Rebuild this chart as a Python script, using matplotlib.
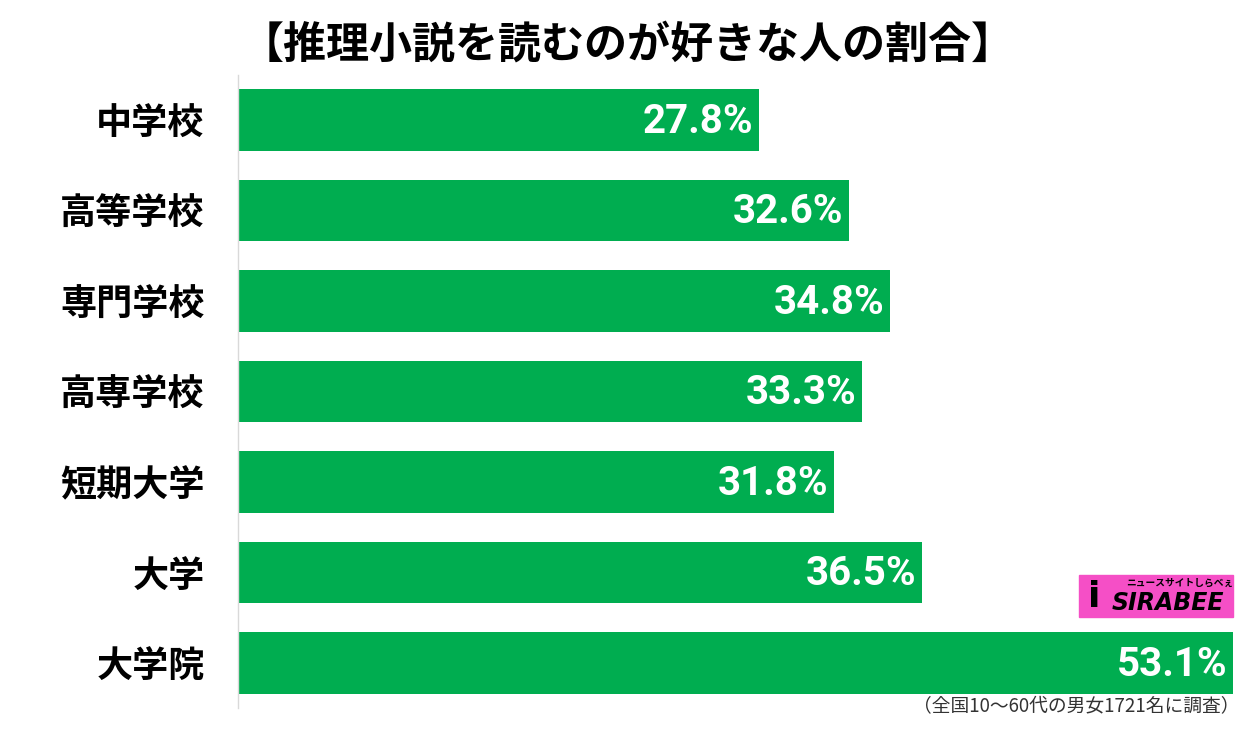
import matplotlib.pyplot as plt
from matplotlib.patches import Rectangle

plt.rcParams['font.family'] = ['Noto Sans CJK JP', 'DejaVu Sans']

categories = ['中学校', '高等学校', '専門学校', '高専学校', '短期大学', '大学', '大学院']
values = [27.8, 32.6, 34.8, 33.3, 31.8, 36.5, 53.1]
title = '【推理小説を読むのが好きな人の割合】'
note = '（全国10〜60代の男女1721名に調査）'

W, H = 1251, 731
fig = plt.figure(figsize=(W / 100, H / 100), dpi=100)
ax = fig.add_axes([238 / W, (H - 708) / H, (1240 - 238) / W, 633 / H])

green = '#00AD50'
ypos = list(range(len(categories)))
ax.barh(ypos, values, height=0.68, color=green)
ax.set_ylim(len(categories) - 0.5, -0.5)
ax.set_xlim(0, (1240 - 238) / 18.74)

for y, v in zip(ypos, values):
    ax.text(v - 0.3, y + 0.02, f'{v:.1f}%', ha='right', va='center', color='white',
            fontsize=29, fontweight='bold', family=['Roboto', 'DejaVu Sans'])

ax.set_yticks(ypos)
ax.set_yticklabels(categories, fontsize=26, fontweight='bold')
ax.tick_params(axis='y', length=0, pad=24)
ax.set_xticks([])
for s in ['top', 'right', 'bottom']:
    ax.spines[s].set_visible(False)
ax.spines['left'].set_color('#d9d9d9')
ax.spines['left'].set_linewidth(1)

fig.text(628 / W, 1 - 45 / H, title, ha='center', va='center',
         fontsize=31, fontweight='bold')
fig.text(1240 / W, 1 - 707 / H, note, ha='right', va='center',
         fontsize=13.5, color='#333333')

# ロゴ
fig.patches.append(Rectangle((1079 / W, 1 - 617 / H), 154 / W, 42 / H,
                             transform=fig.transFigure, color='#F54FC6'))
fig.text(1180 / W, 1 - 583 / H, 'ニュースサイトしらべぇ', ha='center', va='center',
         fontsize=7, fontweight='bold', color='black')
fig.text(1168 / W, 1 - 603 / H, 'SIRABEE', ha='center', va='center',
         fontsize=17, fontweight='bold', style='italic', color='black',
         family=['DejaVu Sans'])
fig.text(1094 / W, 1 - 597 / H, 'i', ha='center', va='center',
         fontsize=26, fontweight='bold', color='black', family=['DejaVu Sans'])

fig.savefig('out.png', dpi=100, facecolor='white')
